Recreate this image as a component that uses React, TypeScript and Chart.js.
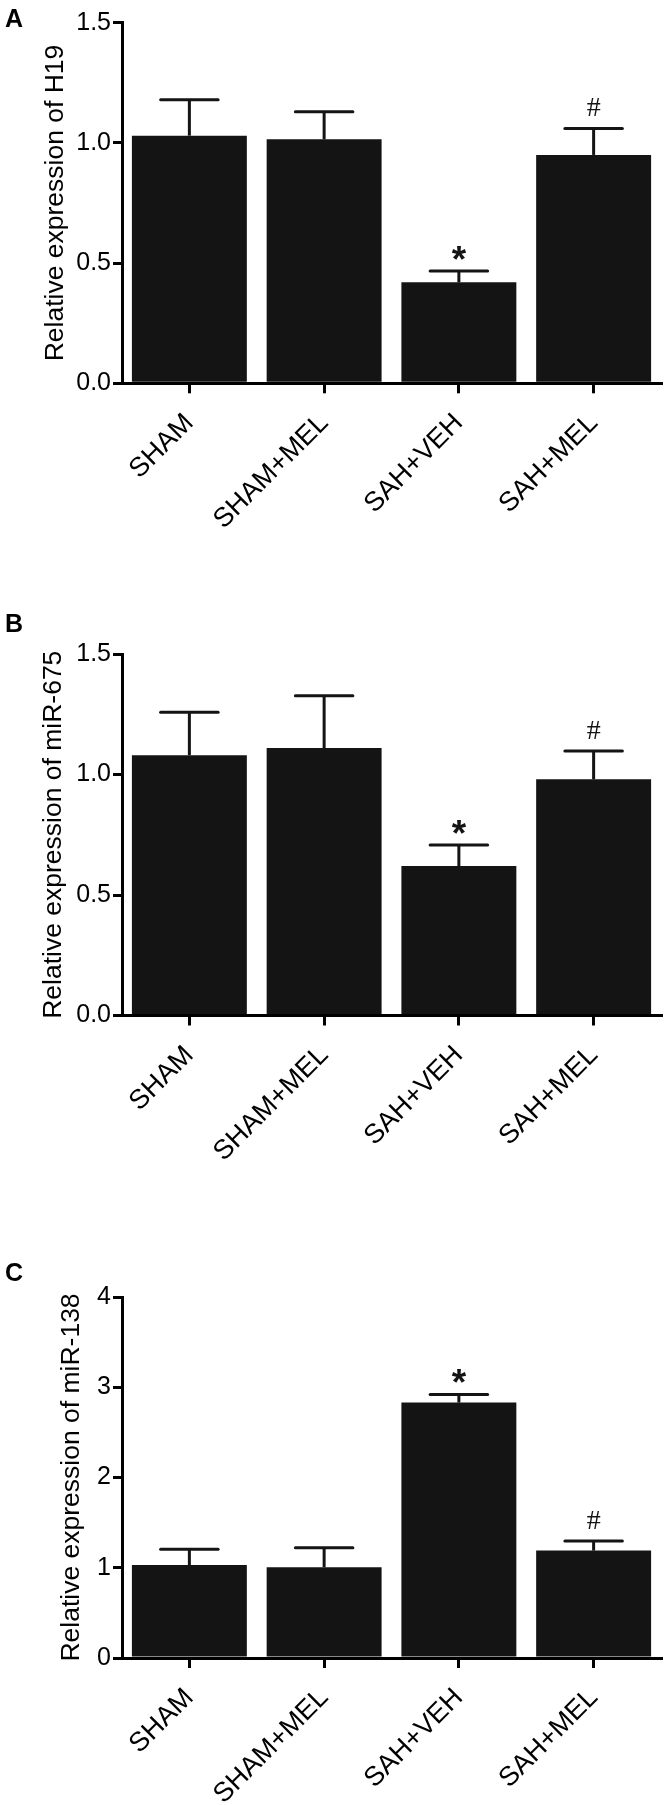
import React, { useEffect, useRef } from 'react';
import { Chart, registerables } from 'chart.js';

Chart.register(...registerables);

const categories = ['SHAM', 'SHAM+MEL', 'SAH+VEH', 'SAH+MEL'];

const h19Means = [1.03, 1.015, 0.42, 0.95];
const h19Errors = [0.15, 0.115, 0.047, 0.11];

const mir675Means = [1.08, 1.11, 0.62, 0.98];
const mir675Errors = [0.178, 0.217, 0.087, 0.118];

const mir138Means = [1.03, 1.005, 2.83, 1.19];
const mir138Errors = [0.175, 0.217, 0.09, 0.107];

const markers = ['', '', '*', '#'];

const yTicksA = ['0.0', '0.5', '1.0', '1.5'];
const yTicksB = ['0.0', '0.5', '1.0', '1.5'];
const yTicksC = ['0', '1', '2', '3', '4'];

const FONT = '"Liberation Sans", Arial, Helvetica, sans-serif';
const BAR = '#141414';

type PanelProps = {
  letter: string;
  title: string;
  means: number[];
  errors: number[];
  yTicks: string[];
  yMax: number;
  yStep: number;
  canvasTop: number;
  canvasH: number;
  plotTop: number;
  plotBottom: number;
  letterBaseline: number;
  titlePad: number;
};

function Panel(p: PanelProps) {
  const ref = useRef<HTMLCanvasElement | null>(null);

  useEffect(() => {
    if (!ref.current) return;
    const errorPlugin = {
      id: 'errBars',
      afterDatasetsDraw(chart: any) {
        const ctx = chart.ctx;
        const meta = chart.getDatasetMeta(0);
        const yScale = chart.scales.y;
        meta.data.forEach((bar: any, i: number) => {
          const { x, y, width } = bar.getProps(['x', 'y', 'width'], true);
          const top = yScale.getPixelForValue(p.means[i] + p.errors[i]);
          ctx.save();
          ctx.strokeStyle = BAR;
          ctx.lineWidth = 3;
          ctx.lineCap = 'butt';
          ctx.beginPath();
          ctx.moveTo(x, y);
          ctx.lineTo(x, top);
          ctx.stroke();
          ctx.lineCap = 'round';
          ctx.beginPath();
          ctx.moveTo(x - width / 4, top);
          ctx.lineTo(x + width / 4, top);
          ctx.stroke();
          const mk = markers[i];
          if (mk) {
            ctx.fillStyle = BAR;
            ctx.textAlign = 'center';
            ctx.textBaseline = 'alphabetic';
            ctx.font = mk === '*' ? `bold 37px ${FONT}` : `28px "Liberation Serif", "Times New Roman", serif`;
            const m = ctx.measureText(mk);
            const gap = mk === '*' ? 11 : 12;
            const base = top - gap - m.actualBoundingBoxDescent;
            ctx.fillText(mk, x, base);
          }
          ctx.restore();
        });
      },
      afterDraw(chart: any) {
        const ctx = chart.ctx;
        ctx.save();
        ctx.fillStyle = '#000';
        ctx.font = `bold 25px ${FONT}`;
        ctx.textAlign = 'left';
        ctx.textBaseline = 'alphabetic';
        ctx.fillText(p.letter, 5, p.letterBaseline);
        ctx.restore();
      },
    };

    const chart = new Chart(ref.current, {
      type: 'bar',
      data: {
        labels: categories,
        datasets: [
          {
            data: p.means,
            backgroundColor: BAR,
            borderWidth: 0,
            barPercentage: 0.853,
            categoryPercentage: 1,
          },
        ],
      },
      options: {
        responsive: false,
        maintainAspectRatio: false,
        devicePixelRatio: 1,
        animation: false,
        layout: { padding: { top: p.plotTop, right: 3, bottom: 0, left: 0 } },
        plugins: { legend: { display: false }, tooltip: { enabled: false } },
        scales: {
          x: {
            type: 'category',
            offset: true,
            afterFit: (s: any) => {
              s.height = p.canvasH - p.plotBottom;
            },
            grid: {
              display: true,
              drawOnChartArea: false,
              drawTicks: true,
              tickLength: 10,
              offset: false,
              color: '#000',
              lineWidth: 3,
            },
            border: { display: true, color: '#000', width: 3 },
            ticks: {
              color: '#000',
              font: { family: FONT, size: 27 },
              maxRotation: 45,
              minRotation: 45,
              padding: 14,
              autoSkip: false,
            },
          },
          y: {
            min: 0,
            max: p.yMax,
            afterFit: (s: any) => {
              s.width = 122;
            },
            grid: {
              display: true,
              drawOnChartArea: false,
              drawTicks: true,
              tickLength: 9,
              color: '#000',
              lineWidth: 3,
            },
            border: { display: true, color: '#000', width: 3 },
            ticks: {
              stepSize: p.yStep,
              color: '#000',
              font: { family: FONT, size: 25 },
              padding: 2,
              callback: (_v: any, i: number) => p.yTicks[i],
            },
            title: {
              display: true,
              text: p.title,
              color: '#000',
              font: { family: FONT, size: 26.5 },
              padding: { top: p.titlePad, bottom: 0 },
            },
          },
        },
      },
      plugins: [errorPlugin],
    } as any);
    return () => chart.destroy();
  }, []);

  return (
    <canvas
      ref={ref}
      width={664}
      height={p.canvasH}
      style={{ position: 'absolute', left: 0, top: p.canvasTop, width: 664, height: p.canvasH }}
    />
  );
}

export default function App() {
  return (
    <div style={{ position: 'absolute', left: 0, top: 0, width: 664, height: 1805, background: '#fff' }}>
      <Panel
        letter="A"
        title="Relative expression of H19"
        means={h19Means}
        errors={h19Errors}
        yTicks={yTicksA}
        yMax={1.5}
        yStep={0.5}
        canvasTop={0}
        canvasH={600}
        plotTop={22.7}
        plotBottom={383.3}
        letterBaseline={27}
        titlePad={40}
      />
      <Panel
        letter="B"
        title="Relative expression of miR-675"
        means={mir675Means}
        errors={mir675Errors}
        yTicks={yTicksB}
        yMax={1.5}
        yStep={0.5}
        canvasTop={600}
        canvasH={630}
        plotTop={54}
        plotBottom={415.5}
        letterBaseline={32}
        titlePad={38}
      />
      <Panel
        letter="C"
        title="Relative expression of miR-138"
        means={mir138Means}
        errors={mir138Errors}
        yTicks={yTicksC}
        yMax={4}
        yStep={1}
        canvasTop={1230}
        canvasH={575}
        plotTop={67}
        plotBottom={428}
        letterBaseline={51}
        titlePad={56}
      />
    </div>
  );
}
